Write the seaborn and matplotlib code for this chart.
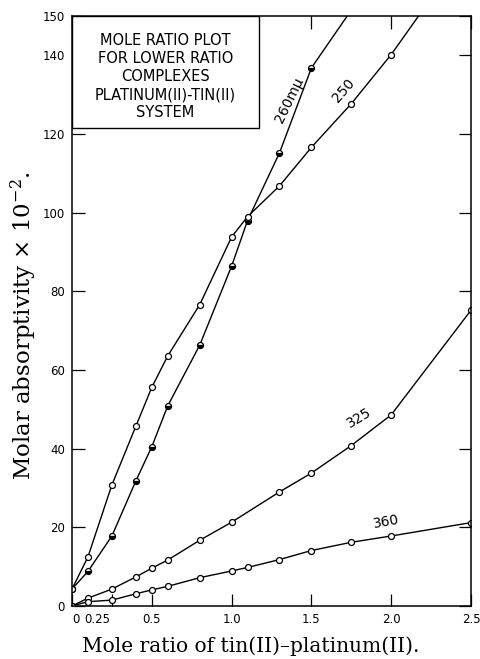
import pandas as pd
import matplotlib.pyplot as plt
import seaborn as sns
from matplotlib.patches import Rectangle
from matplotlib.transforms import ScaledTranslation

# data (mole ratio vs molar absorptivity x 10^-2)
x_260 = [0, 0.1, 0.25, 0.4, 0.5, 0.6, 0.8, 1.0, 1.1, 1.3, 1.5, 1.75]
y_260 = [4.3, 8.8, 17.8, 31.8, 40.5, 50.9, 66.3, 86.4, 98.0, 115.2, 136.8, 151.5]

x_250 = [0, 0.1, 0.25, 0.4, 0.5, 0.6, 0.8, 1.0, 1.1, 1.3, 1.5, 1.75, 2.0, 2.25]
y_250 = [4.3, 12.5, 30.8, 45.7, 55.6, 63.6, 76.6, 93.8, 99.0, 106.8, 116.6, 127.7, 140.2, 154.5]

x_325 = [0, 0.1, 0.25, 0.4, 0.5, 0.6, 0.8, 1.0, 1.3, 1.5, 1.75, 2.0, 2.5]
y_325 = [0, 2.0, 4.3, 7.4, 9.6, 11.7, 16.7, 21.3, 29.0, 33.8, 40.8, 48.6, 75.2]

x_360 = [0, 0.1, 0.25, 0.4, 0.5, 0.6, 0.8, 1.0, 1.1, 1.3, 1.5, 1.75, 2.0, 2.5]
y_360 = [0, 1.1, 1.5, 3.1, 4.1, 5.0, 7.2, 8.9, 9.8, 11.8, 14.1, 16.2, 17.8, 21.2]

curve_labels = ["260m\u03bc", "250", "325", "360"]
label_x = [1.36, 1.70, 1.80, 1.97]
label_y = [128.6, 131.0, 47.8, 21.3]
label_rot = [64, 49, 31, 10]

x_ticks = [0, 0.25, 0.5, 1.0, 1.5, 2.0, 2.5]
x_tick_labels = ["0", "0.25", "0.5", "1.0", "1.5", "2.0", "2.5"]
y_ticks = [0, 20, 40, 60, 80, 100, 120, 140, 150]

box_text = "MOLE RATIO PLOT\nFOR LOWER RATIO\nCOMPLEXES\nPLATINUM(II)-TIN(II)\nSYSTEM"

sns.set_style("ticks")
plt.rcParams["font.family"] = ["DejaVu Sans"]
plt.rcParams["mathtext.fontset"] = "dejavuserif"
plt.rcParams["text.color"] = "black"
plt.rcParams["axes.labelcolor"] = "black"
plt.rcParams["xtick.color"] = "black"
plt.rcParams["ytick.color"] = "black"
plt.rcParams["axes.edgecolor"] = "black"

fig = plt.figure(figsize=(4.81, 6.59), dpi=100)
ax = fig.add_axes([72 / 481, 1 - 606 / 659, 399 / 481, 590 / 659])

line_kw = dict(color="black", linewidth=1.0, marker="o", markersize=4.3,
               markeredgecolor="black", markeredgewidth=0.9)

df260 = pd.DataFrame({"x": x_260, "y": y_260})
sns.lineplot(data=df260, x="x", y="y", ax=ax, markerfacecolor="black",
             fillstyle="bottom", markerfacecoloralt="white", **line_kw)

for xs, ys in [(x_250, y_250), (x_325, y_325), (x_360, y_360)]:
    d = pd.DataFrame({"x": xs, "y": ys})
    sns.lineplot(data=d, x="x", y="y", ax=ax, markerfacecolor="white", **line_kw)

for lab, lx, ly, rot in zip(curve_labels, label_x, label_y, label_rot):
    ax.text(lx, ly, lab, rotation=rot, ha="center", va="center",
            fontsize=10, rotation_mode="anchor")

ax.set_xlim(0, 2.5)
ax.set_ylim(0, 150)
ax.set_xticks(x_ticks)
ax.set_xticklabels(x_tick_labels)
ax.set_yticks(y_ticks)
ax.tick_params(direction="in", length=9, width=0.9, top=True, right=True,
               labelsize=8.5, pad=5)
for s in ax.spines.values():
    s.set_linewidth(1.1)

# crowded labels near the origin are nudged apart like in the original
xt = ax.get_xticklabels()
xt[0].set_transform(xt[0].get_transform() + ScaledTranslation(4 / 100, 0, fig.dpi_scale_trans))
xt[1].set_transform(xt[1].get_transform() + ScaledTranslation(-15 / 100, 0, fig.dpi_scale_trans))

ax.set_xlabel("Mole ratio of tin(II)\u2013platinum(II).", family="DejaVu Serif",
              fontsize=14.5)
ax.set_ylabel("Molar absorptivity $\\times$ 10$^{-2}$.", family="DejaVu Serif",
              fontsize=16.5)
ax.xaxis.set_label_coords(0.449, -0.052)
ax.yaxis.set_label_coords(-0.083, 0.475)

# title box in the upper left corner
ax.add_patch(Rectangle((0, 0.81), 0.469, 0.19, transform=ax.transAxes,
                       facecolor="white", edgecolor="black", linewidth=1.0, zorder=5))
ax.text(0.234, 0.897, box_text, transform=ax.transAxes, ha="center", va="center",
        fontsize=10.5, linespacing=1.25, zorder=6)

fig.savefig("out.png", dpi=100)
